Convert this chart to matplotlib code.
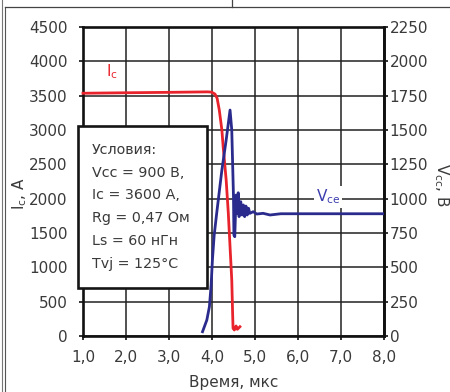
import matplotlib
matplotlib.use('Agg')
import matplotlib.pyplot as plt
from matplotlib.patches import Rectangle
from matplotlib.lines import Line2D
from matplotlib.ticker import FuncFormatter

# collector current, A
t_ic = [1.0, 2.0, 3.0, 3.9, 3.99, 4.07, 4.12, 4.17, 4.23, 4.26, 4.33, 4.38, 4.42,
        4.46, 4.48, 4.49, 4.52, 4.56, 4.59, 4.65]
ic = [3535, 3542, 3548, 3555, 3551, 3523, 3461, 3290, 3000, 2756, 2271, 1786, 1300,
      815, 330, 112, 87, 146, 97, 135]

# collector-emitter voltage, V
t_vce = [3.78, 3.88, 3.94, 3.98, 4.01, 4.05, 4.11, 4.23, 4.33, 4.42, 4.46, 4.48, 4.50,
         4.51, 4.53, 4.56, 4.59, 4.61, 4.63, 4.67, 4.70, 4.73, 4.76, 4.79, 4.82, 4.85,
         4.88, 4.96, 5.04, 5.19, 5.35, 5.6, 8.0]
vce = [31, 116, 213, 370, 553, 730, 895, 1208, 1427, 1645, 1500, 1257, 1014,
       735, 723, 1026, 893, 1043, 869, 978, 881, 954, 869, 946, 881, 930,
       893, 905, 888, 893, 881, 890, 890]

x_ticks = [1, 2, 3, 4, 5, 6, 7, 8]
ic_ticks = [0, 500, 1000, 1500, 2000, 2500, 3000, 3500, 4000, 4500]
v_ticks = [0, 250, 500, 750, 1000, 1250, 1500, 1750, 2000, 2250]

conditions = ['Условия:', 'Vcc = 900 В,', 'Ic = 3600 А,', 'Rg = 0,47 Ом',
              'Ls = 60 нГн', 'Tvj = 125°C']

red = '#e8232b'
blue = '#2a2b8c'
txt = '#3a3a3a'

plt.rcParams['font.family'] = ['DejaVu Sans']
plt.rcParams['mathtext.fontset'] = 'dejavusans'

fig = plt.figure(figsize=(4.5, 3.92), dpi=100)
ax = fig.add_axes([0.1844, 0.1429, 0.6689, 0.7883])
ax2 = ax.twinx()

ax.set_xlim(1, 8)
ax.set_ylim(0, 4500)
ax2.set_ylim(0, 2250)
ax.set_xticks(x_ticks)
ax.set_yticks(ic_ticks)
ax2.set_yticks(v_ticks)
ax.xaxis.set_major_formatter(FuncFormatter(lambda v, p: f'{v:.1f}'.replace('.', ',')))

ax.grid(True, color='#222222', lw=1.1)
ax.set_axisbelow(True)
for a in (ax, ax2):
    for s in a.spines.values():
        s.set_linewidth(1.9)
        s.set_color('#111111')
for s in ('left', 'top', 'bottom'):
    ax2.spines[s].set_visible(False)

ax.tick_params(axis='y', direction='out', length=3, width=1.3, pad=8, labelsize=11,
               labelcolor=txt, color='#222222')
ax.tick_params(axis='x', direction='out', length=3, width=1.3, pad=7, labelsize=11,
               labelcolor=txt, color='#222222')
ax2.tick_params(axis='y', direction='out', length=3, width=1.3, pad=1, labelsize=11,
                labelcolor=txt, color='#222222')

ax.plot(t_ic, ic, color=red, lw=2.0, zorder=3, clip_on=False)
ax2.plot(t_vce, vce, color=blue, lw=2.0, zorder=3)

ax.text(1.67, 3845, r'$\mathregular{I_c}$', color=red, fontsize=11, ha='center', va='center')
ax2.text(6.70, 1012, r'$\mathregular{V_{ce}}$', color='#3a3cad', fontsize=11,
         ha='center', va='center', zorder=4,
         bbox=dict(boxstyle='square,pad=0.1', fc='white', ec='none'))

ax.set_xlabel('Время, мкс', fontsize=11, color=txt)
ax.xaxis.set_label_coords(0.5, -0.126)
ax.set_ylabel(r'$\mathregular{I_c}$, A', fontsize=11, color=txt)
ax.yaxis.set_label_coords(-0.18, 0.46)
ax2.set_ylabel(r'$\mathregular{V_{cc}}$, B', fontsize=11, color=txt, rotation=-90)
ax2.yaxis.set_label_coords(1.22, 0.49)

# conditions box
ax2.add_patch(Rectangle((-0.0166, 0.155), 0.4286, 0.525, transform=ax2.transAxes,
                        fc='white', ec='#151515', lw=1.9, zorder=5, clip_on=False))
ax2.text(0.03, 0.418, '\n'.join(conditions), transform=ax2.transAxes, fontsize=10.3,
         color=txt, ha='left', va='center', linespacing=1.8, zorder=6)

# page frame decoration
fig.add_artist(Line2D([1.5 / 450, 1.5 / 450], [0, 1], color='#777777', lw=0.8))
fig.add_artist(Line2D([5 / 450, 5 / 450], [0, 1 - 7 / 392], color='#555555', lw=0.8))
fig.add_artist(Line2D([5 / 450, 1], [1 - 7 / 392, 1 - 7 / 392], color='#444444', lw=0.9))
fig.add_artist(Line2D([232 / 450, 232 / 450], [1 - 7 / 392, 1], color='#444444', lw=0.9))

fig.savefig('out.png', dpi=100)
